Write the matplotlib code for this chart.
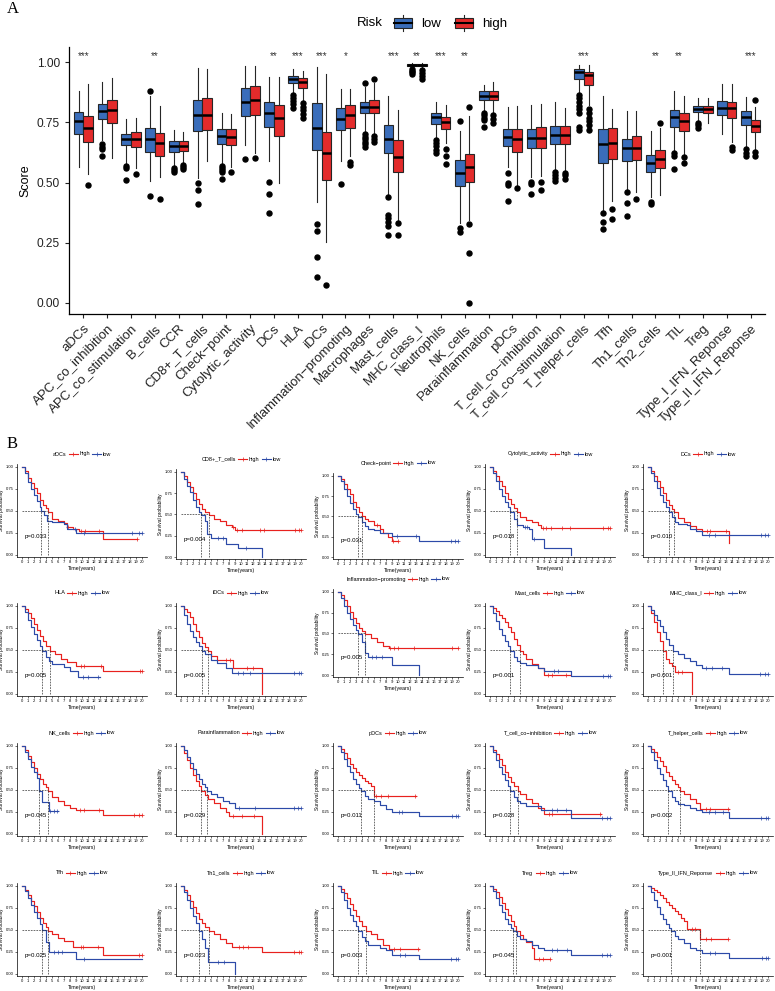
import numpy as np
import matplotlib
matplotlib.use('Agg')
import matplotlib.pyplot as plt
from matplotlib.lines import Line2D
from matplotlib.patches import Patch, Rectangle
from matplotlib.legend_handler import HandlerBase

plt.rcParams['font.family'] = ['Liberation Sans', 'DejaVu Sans']

# ---------------- panel A data ----------------
categories = ['aDCs', 'APC_co_inhibition', 'APC_co_stimulation', 'B_cells', 'CCR', 'CD8+_T_cells',
              'Check\u2212point', 'Cytolytic_activity', 'DCs', 'HLA', 'iDCs', 'Inflammation\u2212promoting',
              'Macrophages', 'Mast_cells', 'MHC_class_I', 'Neutrophils', 'NK_cells', 'Parainflammation',
              'pDCs', 'T_cell_co\u2212inhibition', 'T_cell_co\u2212stimulation', 'T_helper_cells', 'Tfh',
              'Th1_cells', 'Th2_cells', 'TIL', 'Treg', 'Type_I_IFN_Reponse', 'Type_II_IFN_Reponse']
signif = ['***', '', '', '**', '', '', '', '', '**', '***', '***', '*', '', '***', '**', '***', '**',
          '', '', '', '', '***', '', '', '**', '**', '', '', '***']

low_whislo = [0.566, 0.677, 0.582, 0.506, 0.568, 0.517, 0.575, 0.656, 0.591, 0.871, 0.420, 0.589, 0.711, 0.452, 0.978,
              0.684, 0.330, 0.795, 0.566, 0.524, 0.552, 0.878, 0.383, 0.472, 0.441, 0.631, 0.757, 0.704, 0.646]
low_q1 = [0.700, 0.763, 0.656, 0.627, 0.628, 0.714, 0.659, 0.778, 0.732, 0.914, 0.635, 0.717, 0.789, 0.625, 0.986,
          0.743, 0.487, 0.843, 0.652, 0.645, 0.660, 0.932, 0.582, 0.591, 0.542, 0.732, 0.792, 0.782, 0.738]
low_med = [0.758, 0.797, 0.682, 0.682, 0.651, 0.782, 0.695, 0.836, 0.790, 0.932, 0.728, 0.763, 0.814, 0.681, 0.989,
           0.774, 0.538, 0.862, 0.691, 0.686, 0.697, 0.961, 0.660, 0.642, 0.582, 0.772, 0.807, 0.811, 0.774]
low_q3 = [0.794, 0.826, 0.704, 0.727, 0.671, 0.844, 0.721, 0.892, 0.835, 0.944, 0.833, 0.809, 0.836, 0.740, 0.992,
          0.790, 0.592, 0.879, 0.724, 0.724, 0.736, 0.972, 0.721, 0.680, 0.614, 0.803, 0.818, 0.840, 0.796]
low_whishi = [0.882, 0.917, 0.763, 0.860, 0.718, 0.978, 0.790, 0.986, 0.940, 0.973, 0.980, 0.889, 0.898, 0.860, 0.997,
              0.836, 0.715, 0.906, 0.815, 0.822, 0.836, 0.989, 0.860, 0.797, 0.714, 0.880, 0.850, 0.912, 0.857]
low_fliers = [[], [0.659, 0.649, 0.638, 0.609], [0.570, 0.562, 0.510], [0.879, 0.445], [0.561, 0.554, 0.543],
              [0.500, 0.470, 0.412], [0.570, 0.562, 0.553, 0.545, 0.516], [0.598], [0.503, 0.451, 0.375],
              [0.864, 0.850, 0.838, 0.825, 0.810], [0.329, 0.298, 0.189, 0.107], [0.492],
              [0.915, 0.700, 0.690, 0.680, 0.670, 0.660, 0.646], [0.441, 0.365, 0.351, 0.334, 0.319, 0.281],
              [0.972, 0.965, 0.958, 0.950], [0.677, 0.665, 0.650, 0.635, 0.621], [0.757, 0.309, 0.296],
              [0.788, 0.780, 0.770, 0.760, 0.730], [0.539, 0.499, 0.490, 0.422], [0.503, 0.492, 0.453],
              [0.542, 0.530, 0.520, 0.505], [0.864, 0.850, 0.835, 0.820, 0.808, 0.788, 0.732, 0.720],
              [0.372, 0.337, 0.305], [0.460, 0.416, 0.360], [0.420, 0.409], [0.624, 0.610, 0.555],
              [0.749, 0.740, 0.725], [], [0.639, 0.625, 0.610]]

high_whislo = [0.534, 0.603, 0.559, 0.521, 0.577, 0.591, 0.566, 0.621, 0.500, 0.840, 0.254, 0.611, 0.700, 0.337, 0.975,
               0.663, 0.344, 0.788, 0.490, 0.527, 0.549, 0.822, 0.423, 0.462, 0.448, 0.614, 0.749, 0.670, 0.635]
high_q1 = [0.670, 0.746, 0.646, 0.611, 0.631, 0.718, 0.655, 0.782, 0.692, 0.893, 0.509, 0.728, 0.789, 0.542, 0.985,
           0.722, 0.503, 0.842, 0.629, 0.642, 0.660, 0.907, 0.596, 0.594, 0.559, 0.715, 0.790, 0.770, 0.710]
high_med = [0.725, 0.800, 0.681, 0.664, 0.651, 0.782, 0.691, 0.843, 0.767, 0.917, 0.624, 0.781, 0.815, 0.606, 0.989,
            0.752, 0.564, 0.862, 0.681, 0.686, 0.699, 0.946, 0.663, 0.642, 0.599, 0.756, 0.807, 0.810, 0.736]
high_q3 = [0.776, 0.842, 0.711, 0.706, 0.671, 0.853, 0.721, 0.900, 0.822, 0.936, 0.709, 0.822, 0.842, 0.675, 0.993,
           0.774, 0.617, 0.879, 0.724, 0.731, 0.736, 0.961, 0.725, 0.693, 0.634, 0.790, 0.819, 0.836, 0.761]
high_whishi = [0.912, 0.933, 0.770, 0.818, 0.710, 0.972, 0.786, 0.986, 0.940, 0.966, 0.953, 0.889, 0.915, 0.801, 0.998,
               0.822, 0.778, 0.917, 0.818, 0.825, 0.811, 0.989, 0.804, 0.799, 0.725, 0.861, 0.850, 0.912, 0.815]
high_fliers = [[0.488], [], [0.537], [0.430], [0.571, 0.564, 0.557], [], [0.542], [0.603], [],
               [0.829, 0.815, 0.800, 0.785, 0.770], [0.072], [0.584, 0.575], [0.929, 0.693, 0.682, 0.668],
               [0.331, 0.281], [0.968, 0.955, 0.942, 0.930], [0.641, 0.609, 0.577], [0.813, 0.326, 0.208, 0.0],
               [0.779, 0.763, 0.746], [0.478], [0.502, 0.469], [0.541, 0.530, 0.515],
               [0.804, 0.790, 0.770, 0.755, 0.740, 0.720], [0.388, 0.347], [0.430], [0.748], [0.605, 0.580],
               [], [0.649, 0.635], [0.842, 0.628, 0.610]]

# ---------------- panel B data ----------------
km_names = ['aDCs', 'CD8+_T_cells', 'Check\u2212point', 'Cytolytic_activity', 'DCs',
            'HLA', 'iDCs', 'Inflammation\u2212promoting', 'Mast_cells', 'MHC_class_I',
            'NK_cells', 'Parainflammation', 'pDCs', 'T_cell_co\u2212inhibition', 'T_helper_cells',
            'Tfh', 'Th1_cells', 'TIL', 'Treg', 'Type_II_IFN_Reponse']
km_p = ['0.033', '0.004', '0.031', '0.018', '0.010', '0.005', '0.005', '0.005', '0.001', '0.001',
        '0.045', '0.029', '0.011', '0.028', '0.002', '0.025', '0.023', '0.003', '0.045', '0.001']

km_high_t = [
    [0, 0.5, 1, 1.5, 2, 2.5, 3, 3.5, 4, 4.3, 5, 6, 7, 7.5, 8.5, 9.5, 13.5],
    [0, 0.5, 1, 1.5, 2, 2.5, 3, 3.5, 4, 4.6, 5.5, 6.5, 7.5, 8.5, 9],
    [0, 0.5, 1, 1.5, 2, 2.5, 3, 3.5, 4, 4.5, 5, 6, 7, 7.5, 8.3, 9],
    [0, 0.5, 1, 1.5, 2, 2.5, 3, 3.5, 4, 4.5, 5, 6, 7, 8, 8.5],
    [0, 0.5, 1, 1.5, 2, 2.5, 3, 3.5, 4, 4.3, 5, 6, 7, 8, 9, 13.5],
    [0, 0.5, 1, 1.5, 2, 2.5, 3, 3.5, 4, 4.6, 5.5, 6.5, 7.5, 9, 13.5],
    [0, 0.5, 1, 1.5, 2, 2.5, 3, 3.5, 4, 4.5, 5, 6, 8.7, 13.5],
    [0, 0.5, 1, 1.5, 2, 2.5, 3, 3.5, 4, 4.5, 5.5, 6.5, 7.5, 8.5],
    [0, 0.5, 1, 1.5, 2, 2.5, 3, 3.5, 4, 4.5, 5, 5.5, 6, 7, 8, 9],
    [0, 0.5, 1, 1.5, 2, 2.5, 3, 3.5, 4, 4.5, 7.3],
    [0, 0.5, 1, 1.5, 2, 2.5, 3, 3.5, 4, 4.4, 5, 6, 7, 8, 9, 13.5],
    [0, 0.5, 1, 1.5, 2, 2.5, 3, 3.4, 4, 4.5, 5.5, 6.5, 7.5, 8, 13.5],
    [0, 0.5, 1, 1.5, 2, 2.5, 3, 3.5, 4, 4.5, 5, 5.5, 6],
    [0, 0.5, 1, 1.5, 2, 2.5, 3, 3.5, 4, 4.6, 5, 6, 7, 8, 9],
    [0, 0.5, 1, 1.5, 2, 2.5, 3, 3.5, 4, 4.5, 5, 5.3, 6, 7, 8, 8.7],
    [0, 0.5, 1, 1.5, 2, 2.5, 3, 3.5, 4, 4.4, 5, 6, 7, 8.5, 13.5],
    [0, 0.5, 1, 1.5, 2, 2.5, 3, 3.5, 4, 4.6, 5.5, 6.5, 7.5, 8.5, 13.5],
    [0, 0.5, 1, 1.5, 2, 2.5, 3, 3.5, 4, 4.7, 5.5, 6.5, 7.5, 8.5],
    [0, 0.5, 1, 1.5, 2, 2.5, 3, 3.5, 4, 4.4, 5, 5.5, 6, 7, 7.3],
    [0, 0.5, 1, 1.5, 2, 2.5, 3, 3.5, 4, 4.5, 5, 5.5, 6, 6.5, 8.7],
]
km_high_s = [
    [1, 0.95, 0.88, 0.82, 0.76, 0.70, 0.63, 0.57, 0.53, 0.49, 0.41, 0.39, 0.36, 0.32, 0.30, 0.27, 0.18],
    [1, 0.95, 0.88, 0.82, 0.75, 0.68, 0.62, 0.57, 0.53, 0.49, 0.45, 0.42, 0.38, 0.35, 0.32],
    [1, 0.96, 0.90, 0.84, 0.77, 0.68, 0.61, 0.55, 0.50, 0.47, 0.44, 0.40, 0.34, 0.30, 0.25, 0.20],
    [1, 0.96, 0.90, 0.84, 0.78, 0.71, 0.64, 0.58, 0.53, 0.49, 0.43, 0.40, 0.37, 0.34, 0.31],
    [1, 0.96, 0.90, 0.84, 0.77, 0.70, 0.63, 0.57, 0.52, 0.49, 0.42, 0.38, 0.33, 0.30, 0.27, 0.14],
    [1, 0.97, 0.92, 0.86, 0.80, 0.73, 0.66, 0.60, 0.55, 0.49, 0.45, 0.40, 0.36, 0.32, 0.26],
    [1, 0.97, 0.93, 0.87, 0.80, 0.72, 0.65, 0.58, 0.53, 0.49, 0.43, 0.39, 0.30, 0.0],
    [1, 0.96, 0.90, 0.83, 0.76, 0.69, 0.62, 0.57, 0.53, 0.49, 0.45, 0.40, 0.35, 0.32],
    [1, 0.98, 0.94, 0.90, 0.86, 0.82, 0.76, 0.70, 0.63, 0.56, 0.49, 0.45, 0.40, 0.34, 0.29, 0.22],
    [1, 0.92, 0.82, 0.70, 0.60, 0.49, 0.40, 0.35, 0.32, 0.25, 0.0],
    [1, 0.95, 0.89, 0.82, 0.75, 0.68, 0.62, 0.57, 0.53, 0.49, 0.42, 0.38, 0.33, 0.30, 0.27, 0.22],
    [1, 0.92, 0.84, 0.75, 0.67, 0.60, 0.55, 0.49, 0.44, 0.40, 0.35, 0.30, 0.25, 0.20, 0.0],
    [1, 0.97, 0.92, 0.86, 0.80, 0.75, 0.71, 0.67, 0.64, 0.60, 0.58, 0.55, 0.43],
    [1, 0.96, 0.91, 0.85, 0.78, 0.71, 0.65, 0.59, 0.54, 0.49, 0.45, 0.40, 0.35, 0.30, 0.23],
    [1, 0.97, 0.93, 0.88, 0.83, 0.77, 0.71, 0.66, 0.61, 0.57, 0.53, 0.49, 0.45, 0.40, 0.35, 0.28],
    [1, 0.96, 0.90, 0.83, 0.77, 0.70, 0.64, 0.58, 0.53, 0.49, 0.45, 0.41, 0.37, 0.31, 0.22],
    [1, 0.96, 0.90, 0.83, 0.76, 0.69, 0.63, 0.58, 0.53, 0.49, 0.45, 0.40, 0.35, 0.31, 0.25],
    [1, 0.97, 0.92, 0.86, 0.80, 0.73, 0.66, 0.60, 0.55, 0.49, 0.45, 0.40, 0.33, 0.28],
    [1, 0.97, 0.93, 0.87, 0.81, 0.74, 0.67, 0.60, 0.54, 0.49, 0.44, 0.40, 0.36, 0.30, 0.17],
    [1, 0.98, 0.96, 0.93, 0.90, 0.86, 0.82, 0.78, 0.75, 0.72, 0.68, 0.64, 0.60, 0.51, 0.40],
]
km_high_end = [19.2, 20, 10, 20, 13.5, 20, 13.5, 20, 13.3, 7.3, 20, 13.5, 13, 18.5, 13.5, 20, 20, 13.5, 10, 13.3]
km_high_cens = [[7.6, 9.8, 10.5, 12.8, 19.2], [8.6, 9.4, 10.2, 13.1, 13.8, 18.9, 19.6, 20], [6.5, 9.1, 10],
                [8.8, 9.3, 10.2, 12, 13.3, 18.8, 19.7, 20], [9.8, 10.4, 13], [9.8, 10.3, 13.2, 19.6, 20],
                [7.5, 8.1, 11, 12], [8.6, 9.3, 10, 12.7, 18.9, 20], [9.6, 10.3, 12.6], [5, 5.6],
                [9.7, 10.4, 12.8, 18.6, 19.4, 20], [8.7, 10.2, 12.2], [6.3, 7.1, 8.4, 12.8], [9.8, 10.4, 18.3],
                [9.6, 10.4, 13.3], [9.8, 10.2, 12.6, 19.4, 20], [9.6, 10.4, 11.1, 18.8, 19.6, 20], [9.3, 10.4, 13.4],
                [8.1, 8.9, 10], [7.3, 7.9, 9.6, 10.5, 13.3]]

km_low_t = [
    [0, 0.5, 1, 1.5, 2, 2.5, 3, 3.2, 3.7, 4.2, 5, 6, 7, 7.5, 8.5, 9, 13.5],
    [0, 0.5, 1, 1.5, 2, 2.5, 3, 3.4, 4, 4.4, 5, 7.5, 9.5, 13.5],
    [0, 0.5, 1, 1.5, 2, 2.5, 3, 3.3, 4, 4.5, 5, 6, 7, 9, 13.5],
    [0, 0.5, 1, 1.5, 2, 2.5, 3, 3.4, 4, 4.5, 5.5, 6.5, 7, 9, 13.5],
    [0, 0.5, 1, 1.5, 2, 2.5, 3, 3.5, 4, 4.5, 5, 6.5, 7, 8, 9],
    [0, 0.5, 1, 1.5, 2, 2.5, 3, 3.4, 4, 4.5, 5, 7, 8, 9.3],
    [0, 0.5, 1, 1.5, 2, 2.5, 3, 3.5, 4, 5, 6, 7.5, 8.5],
    [0, 0.5, 1, 1.5, 2, 2.5, 3, 3.3, 4, 4.5, 5, 9, 13.5],
    [0, 0.5, 1, 1.5, 2, 2.5, 3, 3.4, 4, 4.5, 5, 6, 8, 9, 13.5],
    [0, 0.5, 1, 1.5, 2, 2.5, 3, 3.5, 4.2, 5, 6, 7, 8, 9, 13.5],
    [0, 0.5, 1, 1.5, 2, 2.5, 2.9, 3.3, 4.5],
    [0, 0.5, 1, 1.5, 2, 2.5, 3, 3.5, 4, 4.4, 5, 6, 7, 8, 9],
    [0, 0.5, 1, 1.5, 2, 2.5, 3, 3.5, 3.8, 4.5, 5, 6, 7, 8, 9, 13.5],
    [0, 0.5, 1, 1.5, 2, 2.5, 3, 3.4, 4, 4.5, 5, 6, 8.5, 13.5],
    [0, 0.5, 1, 1.5, 2, 2.5, 3, 3.4, 4, 4.5, 5, 6, 7, 8, 9, 13.5],
    [0, 0.5, 1, 1.5, 2, 2.5, 3, 3.4, 4, 4.5, 9],
    [0, 0.5, 1, 1.5, 2, 2.5, 3, 3.5, 4, 4.5, 9],
    [0, 0.5, 1, 1.5, 2, 2.5, 3, 3.4, 4, 4.5, 5, 7, 8, 9, 13.5],
    [0, 0.5, 1, 1.5, 2, 2.5, 3, 3.5, 3.8, 4.5, 5, 6, 7, 8, 9, 13.5],
    [0, 0.5, 1, 1.5, 2, 2.5, 3, 3.5, 3.8, 4.5, 5, 6, 7, 8, 9, 13.5],
]
km_low_s = [
    [1, 0.93, 0.83, 0.75, 0.68, 0.61, 0.54, 0.50, 0.45, 0.39, 0.38, 0.37, 0.35, 0.30, 0.29, 0.25, 0.25],
    [1, 0.92, 0.84, 0.76, 0.67, 0.59, 0.53, 0.49, 0.42, 0.27, 0.22, 0.15, 0.11, 0.0],
    [1, 0.93, 0.84, 0.75, 0.66, 0.59, 0.53, 0.49, 0.43, 0.38, 0.35, 0.33, 0.30, 0.26, 0.20],
    [1, 0.93, 0.84, 0.75, 0.67, 0.60, 0.54, 0.49, 0.41, 0.34, 0.32, 0.29, 0.18, 0.08, 0.0],
    [1, 0.93, 0.84, 0.76, 0.68, 0.60, 0.54, 0.49, 0.43, 0.38, 0.35, 0.34, 0.30, 0.27, 0.23],
    [1, 0.93, 0.84, 0.76, 0.68, 0.61, 0.55, 0.49, 0.42, 0.38, 0.34, 0.31, 0.26, 0.19],
    [1, 0.90, 0.80, 0.72, 0.65, 0.59, 0.54, 0.49, 0.45, 0.39, 0.35, 0.30, 0.24],
    [1, 0.92, 0.83, 0.75, 0.67, 0.60, 0.54, 0.49, 0.40, 0.27, 0.22, 0.12, 0.0],
    [1, 0.92, 0.83, 0.74, 0.67, 0.60, 0.54, 0.49, 0.42, 0.37, 0.35, 0.33, 0.30, 0.26, 0.20],
    [1, 0.96, 0.90, 0.84, 0.77, 0.70, 0.63, 0.56, 0.49, 0.45, 0.41, 0.37, 0.33, 0.29, 0.23],
    [1, 0.93, 0.85, 0.76, 0.70, 0.64, 0.49, 0.36, 0.26],
    [1, 0.95, 0.88, 0.81, 0.74, 0.68, 0.62, 0.57, 0.53, 0.49, 0.45, 0.42, 0.38, 0.35, 0.29],
    [1, 0.93, 0.85, 0.77, 0.70, 0.63, 0.57, 0.52, 0.49, 0.43, 0.40, 0.37, 0.33, 0.28, 0.25, 0.20],
    [1, 0.93, 0.84, 0.76, 0.68, 0.61, 0.55, 0.49, 0.42, 0.38, 0.35, 0.32, 0.27, 0.18],
    [1, 0.93, 0.84, 0.75, 0.68, 0.61, 0.55, 0.49, 0.42, 0.37, 0.34, 0.33, 0.30, 0.27, 0.25, 0.18],
    [1, 0.94, 0.86, 0.78, 0.71, 0.64, 0.57, 0.50, 0.36, 0.25, 0.17],
    [1, 0.93, 0.84, 0.75, 0.66, 0.58, 0.49, 0.40, 0.30, 0.14, 0.0],
    [1, 0.93, 0.84, 0.75, 0.67, 0.60, 0.54, 0.49, 0.42, 0.37, 0.33, 0.30, 0.27, 0.22, 0.17],
    [1, 0.94, 0.86, 0.78, 0.70, 0.63, 0.57, 0.52, 0.49, 0.43, 0.40, 0.37, 0.33, 0.30, 0.27, 0.21],
    [1, 0.93, 0.84, 0.76, 0.68, 0.62, 0.57, 0.52, 0.49, 0.43, 0.40, 0.35, 0.30, 0.27, 0.24, 0.18],
]
km_low_end = [20, 13.5, 20, 13.5, 20, 13, 20, 13.5, 20, 20, 6, 20, 20, 20, 20, 20, 9, 20, 20, 20]
km_low_cens = [[8.8, 10.3, 18.3, 19.4, 20], [6.2, 7.0, 10.8], [9.8, 13, 18.8, 19.5, 20], [5.8, 6.1, 7.3],
               [10.2, 11.1, 18.8, 19.5, 20], [10.2, 11, 12.6], [9.5, 10.3, 11.5, 18.8, 19.6, 20], [5.6, 6.4, 7.4],
               [10.6, 11.3, 18.8, 19.6, 20], [9.7, 10.6, 12.4, 18.7, 19.4, 20], [4.7, 5.3, 5.9],
               [9.6, 12.4, 18.8, 19.5, 20], [10.1, 10.6, 18.9, 19.6, 20], [10.3, 11.2, 12.7, 18.6, 19.4, 20],
               [10.2, 11.1, 12.5, 18.8, 19.6, 20], [5.3, 6, 6.7, 10.4], [6.2, 7.1], [10.3, 11.2, 18.8, 19.6, 20],
               [10.3, 11.1, 12.8, 18.7, 19.5, 20], [10.3, 11.1, 18.9, 19.6, 20]]

c_low = '#3A6DBA'
c_high = '#E32B2B'
c_km_high = '#E8211E'
c_km_low = '#2C4AA8'

W, H = 775, 991
fig = plt.figure(figsize=(W / 100, H / 100), dpi=100)


class BoxKey(HandlerBase):
    def create_artists(self, legend, orig_handle, xdescent, ydescent, width, height, fontsize, trans):
        x0, y0 = -xdescent, -ydescent
        cx = x0 + width / 2
        box = Rectangle((x0 + 0.08 * width, y0 + 0.18 * height), 0.84 * width, 0.64 * height,
                        facecolor=orig_handle.get_facecolor(), edgecolor='#262626', lw=0.8, transform=trans)
        top = Line2D([cx, cx], [y0 + 0.82 * height, y0 + height], color='#262626', lw=0.8, transform=trans)
        bot = Line2D([cx, cx], [y0, y0 + 0.18 * height], color='#262626', lw=0.8, transform=trans)
        med = Line2D([x0 + 0.08 * width, x0 + 0.92 * width], [y0 + height / 2] * 2, color='black', lw=1.5,
                     transform=trans)
        return [box, top, bot, med]


# ---------------- panel A ----------------
axA = fig.add_axes([69 / W, 1 - 314 / H, 696 / W, 267 / H])
pos = np.arange(len(categories))

low_stats = [dict(whislo=a, q1=b, med=c, q3=d, whishi=e, fliers=f) for a, b, c, d, e, f in
             zip(low_whislo, low_q1, low_med, low_q3, low_whishi, low_fliers)]
high_stats = [dict(whislo=a, q1=b, med=c, q3=d, whishi=e, fliers=f) for a, b, c, d, e, f in
              zip(high_whislo, high_q1, high_med, high_q3, high_whishi, high_fliers)]

for stats, off, col in [(low_stats, -0.2, c_low), (high_stats, 0.2, c_high)]:
    axA.bxp(stats, positions=pos + off, widths=0.4, patch_artist=True, showcaps=False,
            boxprops=dict(facecolor=col, edgecolor='#262626', linewidth=0.8),
            medianprops=dict(color='black', linewidth=1.8, solid_capstyle='butt'),
            whiskerprops=dict(color='#262626', linewidth=0.8),
            flierprops=dict(marker='o', markerfacecolor='black', markeredgecolor='black', markersize=3.6))

for p, s in zip(pos, signif):
    axA.text(p, 1.026, s, ha='center', va='center', fontsize=7, color='#333333')

axA.set_xlim(-0.6, len(categories) - 0.4)
axA.set_ylim(-0.047, 1.064)
axA.set_yticks([0, 0.25, 0.5, 0.75, 1.0])
axA.set_yticklabels(['0.00', '0.25', '0.50', '0.75', '1.00'], fontsize=8.6, color='#222222')
axA.set_xticks(pos)
axA.set_xticklabels(categories, rotation=45, ha='right', va='top', rotation_mode='anchor',
                    fontsize=9.5, color='#222222')
axA.tick_params(length=3, width=0.8, color='#222222')
axA.tick_params(axis='x', pad=3)
for sp in ['top', 'right']:
    axA.spines[sp].set_visible(False)
for sp in ['left', 'bottom']:
    axA.spines[sp].set_linewidth(0.9)
axA.set_ylabel('Score', fontsize=9, labelpad=4)

fig.text(357 / W, 1 - 23 / H, 'Risk', fontsize=9.5, va='center')
fig.legend([Patch(facecolor=c_low), Patch(facecolor=c_high)], ['low', 'high'], loc='center left',
           bbox_to_anchor=(386 / W, 1 - 23 / H), ncol=2, frameon=False, fontsize=9.5,
           handlelength=1.6, handleheight=1.5, handletextpad=0.6, columnspacing=0.9, borderpad=0,
           handler_map={Patch: BoxKey()})

fig.text(7 / W, 1 - 9 / H, 'A', family='Liberation Serif', fontsize=12, va='center')
fig.text(7 / W, 1 - 444 / H, 'B', family='Liberation Serif', fontsize=12, va='center')

# ---------------- panel B ----------------
col_left = [17, 176, 333, 485, 643]
row_title = [454, 593, 733, 873]
top_shift = [0, 5, 9, 0, 0, 0, 0, -14, 0, 0, 0, 0, 0, 0, 0, 0, 0, 0, 0, 0]
bottom_shift = [0, 2, 2, 0, 0, 0, 0, -19, 0, 0, 0, 0, 0, 0, 0, 0, 0, 0, 0, 0]


def surv_at(ts, ss, t):
    v = ss[0]
    for a, b in zip(ts, ss):
        if a <= t:
            v = b
    return v


for i, name in enumerate(km_names):
    r, c = divmod(i, 5)
    T = row_title[r]
    ytop = T + 10 + top_shift[i]
    ybot = T + 103 + bottom_shift[i]
    h_ax = ybot - ytop
    ax = fig.add_axes([col_left[c] / W, 1 - ybot / H, 130 / W, h_ax / H])

    meds = []
    for ts, ss, end, cens, col in [(km_high_t[i], km_high_s[i], km_high_end[i], km_high_cens[i], c_km_high),
                                   (km_low_t[i], km_low_s[i], km_low_end[i], km_low_cens[i], c_km_low)]:
        ax.step(ts + [end], ss + [ss[-1]], where='post', color=col, lw=0.85)
        ax.plot(cens, [surv_at(ts, ss, t) for t in cens], '+', color=col, ms=2.2, mew=0.5)
        meds.append(next(t for t, s in zip(ts, ss) if s <= 0.5))

    ax.plot([0, max(meds)], [0.5, 0.5], ls=(0, (2.5, 1.5)), color='#333333', lw=0.5)
    for m in meds:
        ax.plot([m, m], [0, 0.5], ls=(0, (2.5, 1.5)), color='#333333', lw=0.5)

    ax.text(0.5, 0.21, 'p=' + km_p[i], fontsize=4.4, va='center', ha='left')

    ax.set_xlim(-0.8, 20.8)
    ax.set_ylim(-0.023, 1.034)
    ax.set_xticks(range(21))
    ax.set_xticklabels([str(k) for k in range(21)], fontsize=3)
    ax.set_yticks([0, 0.25, 0.5, 0.75, 1.0])
    ax.set_yticklabels(['0.00', '0.25', '0.50', '0.75', '1.00'], fontsize=3)
    ax.tick_params(length=1.5, width=0.4, pad=1)
    for sp in ['top', 'right']:
        ax.spines[sp].set_visible(False)
    for sp in ['left', 'bottom']:
        ax.spines[sp].set_linewidth(0.5)
    ax.set_xlabel('Time(years)', fontsize=3.8, labelpad=0.8)
    ax.set_ylabel('Survival probability', fontsize=3.5, labelpad=1.5)

    handles = [Line2D([], [], alpha=0),
               Line2D([], [], color=c_km_high, lw=0.8, marker='+', ms=2.2, mew=0.5),
               Line2D([], [], color=c_km_low, lw=0.8, marker='+', ms=2.2, mew=0.5)]
    ax.legend(handles, [name, 'high', 'low'], loc='center', bbox_to_anchor=(0.46, 1 + 10 / h_ax),
              ncol=3, frameon=False, fontsize=4, handlelength=1.6, handletextpad=0.3, columnspacing=0.4,
              borderpad=0, borderaxespad=0)

fig.savefig('out.png', dpi=100)
